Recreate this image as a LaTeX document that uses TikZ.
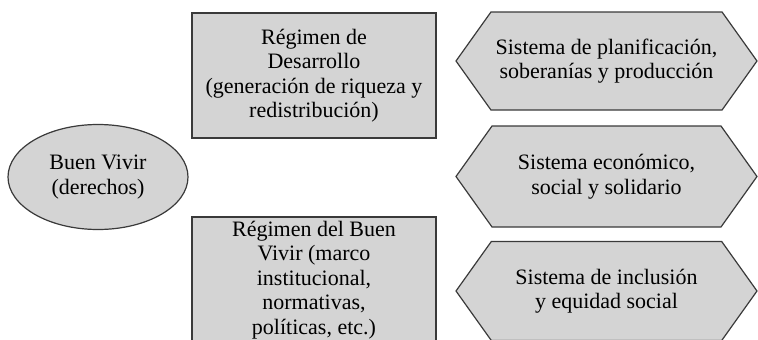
\documentclass[tikz,border=0pt]{standalone}
\usepackage{fontspec}
\setmainfont{Liberation Serif}
\usetikzlibrary{shapes.geometric,shapes.symbols}
\definecolor{boxgray}{HTML}{D4D4D4}
\definecolor{linegray}{HTML}{3A3A3A}
\tikzset{
  base/.style={draw=linegray, line width=1.2pt, fill=boxgray, align=center,
    inner sep=0pt, font=\fontsize{22}{24.5}\selectfont},
  oval/.style={base, ellipse, minimum width=180pt, minimum height=105pt},
  regbox/.style={base, rectangle, minimum width=244pt},
  hexa/.style={base, signal, signal to=east and west, signal pointer angle=109,
    minimum width=301pt}
}
\begin{document}
\begin{tikzpicture}[x=1pt,y=-1pt]
\useasboundingbox (0,0) rectangle (758,340);
\node[oval] (BV) at (98,177) {Buen Vivir\\(derechos)};
\node[regbox, minimum height=125pt] (RD) at (314,75.5) {R\'egimen de\\Desarrollo\\(generaci\'on de riqueza y\\redistribuci\'on)};
\node[regbox, minimum height=126pt] (RB) at (314,280) {R\'egimen del Buen\\Vivir (marco\\institucional,\\normativas,\\pol\'iticas, etc.)};
\node[hexa, minimum height=98pt] (SP) at (606.5,61) {Sistema de planificaci\'on,\\soberan\'ias y producci\'on};
\node[hexa, minimum height=101pt] (SE) at (606.5,176.5) {Sistema econ\'omico,\\social y solidario};
\node[hexa, minimum height=99pt] (SI) at (606.5,291) {Sistema de inclusi\'on\\y equidad social};
\end{tikzpicture}
\end{document}
